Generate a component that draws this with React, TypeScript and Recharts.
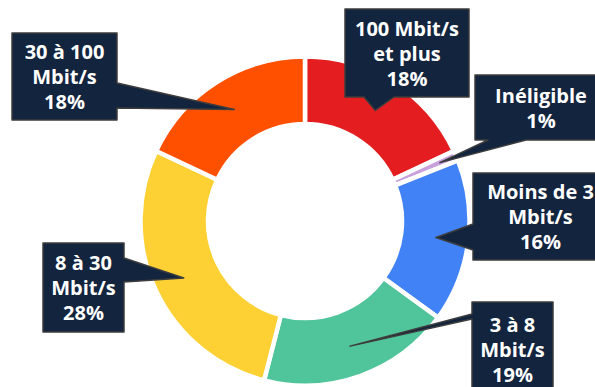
import { PieChart, Pie, Cell } from "recharts";

// Access shares by speed bracket, clockwise from 12 o'clock
const categories = [
  "100 Mbit/s et plus",
  "Inéligible",
  "Moins de 3 Mbit/s",
  "3 à 8 Mbit/s",
  "8 à 30 Mbit/s",
  "30 à 100 Mbit/s",
];
const shares = [18, 1, 16, 19, 28, 18];
const labelLines = [
  ["100 Mbit/s", "et plus"],
  ["Inéligible"],
  ["Moins de 3", "Mbit/s"],
  ["3 à 8", "Mbit/s"],
  ["8 à 30", "Mbit/s"],
  ["30 à 100", "Mbit/s"],
];
const colors = ["#e41e20", "#c7a0dc", "#4282f7", "#50c49a", "#fdd033", "#ff5000"];

const data = categories.map((name, i) => ({ name, value: shares[i] }));

// callout boxes: box rect, side the pointer leaves from, pointer base span, tip radius
type Callout = {
  x: number;
  y: number;
  w: number;
  h: number;
  side: "bottom" | "left" | "right";
  b1: number;
  b2: number;
  tipR: number;
};
const callouts: Callout[] = [
  { x: 345, y: 9, w: 124, h: 88, side: "bottom", b1: 364, b2: 394, tipR: 131 },
  { x: 475, y: 75, w: 132, h: 65, side: "bottom", b1: 488, b2: 526, tipR: 147 },
  { x: 473, y: 173, w: 135, h: 87, side: "left", b1: 224, b2: 250, tipR: 132 },
  { x: 472, y: 302, w: 81, h: 95, side: "left", b1: 314, b2: 319, tipR: 133 },
  { x: 43, y: 243, w: 81, h: 89, side: "right", b1: 258, b2: 282, tipR: 134 },
  { x: 12, y: 33, w: 105, h: 87, side: "right", b1: 83, b2: 108, tipR: 132 },
];

const RAD = Math.PI / 180;

function calloutPath(c: Callout, tx: number, ty: number) {
  const { x, y, w, h } = c;
  const r = x + w;
  const b = y + h;
  if (c.side === "bottom") {
    return `M${x},${y} H${r} V${b} H${c.b2} L${tx},${ty} L${c.b1},${b} H${x} Z`;
  }
  if (c.side === "left") {
    return `M${x},${y} H${r} V${b} H${x} V${c.b2} L${tx},${ty} L${x},${c.b1} Z`;
  }
  return `M${x},${y} H${r} V${c.b1} L${tx},${ty} L${r},${c.b2} V${b} H${x} Z`;
}

const renderCallout = (props: any) => {
  const { cx, cy, midAngle, index } = props;
  const c = callouts[index];
  const tx = cx + c.tipR * Math.cos(-midAngle * RAD);
  const ty = cy + c.tipR * Math.sin(-midAngle * RAD);
  const lines = [...labelLines[index], `${shares[index]}%`];
  const mid = c.x + c.w / 2;
  const top = c.y + c.h / 2 - ((lines.length - 1) * 25) / 2;
  return (
    <g key={`callout-${index}`}>
      <path
        d={calloutPath(c, tx, ty)}
        fill="#12243e"
        stroke="#3d3d3d"
        strokeWidth={1.5}
        strokeLinejoin="round"
      />
      {lines.map((line, k) => (
        <text
          key={k}
          x={mid}
          y={top + k * 25}
          textAnchor="middle"
          dominantBaseline="central"
          fill="#ffffff"
          fontFamily="'Open Sans', sans-serif"
          fontWeight={700}
          fontSize={20}
        >
          {line}
        </text>
      ))}
    </g>
  );
};

export default function App() {
  return (
    <div style={{ width: 595, height: 387, background: "#ffffff" }}>
      <style>{`body { margin: 0; }`}</style>
      <PieChart width={595} height={387} margin={{ top: 0, right: 0, bottom: 0, left: 0 }}>
        <Pie
          data={data}
          dataKey="value"
          nameKey="name"
          cx={305}
          cy={221}
          innerRadius={97}
          outerRadius={164.5}
          startAngle={90}
          endAngle={-270}
          stroke="#ffffff"
          strokeWidth={4.5}
          label={renderCallout}
          labelLine={false}
          isAnimationActive={false}
        >
          {data.map((d, i) => (
            <Cell key={d.name} fill={colors[i]} />
          ))}
        </Pie>
      </PieChart>
    </div>
  );
}
